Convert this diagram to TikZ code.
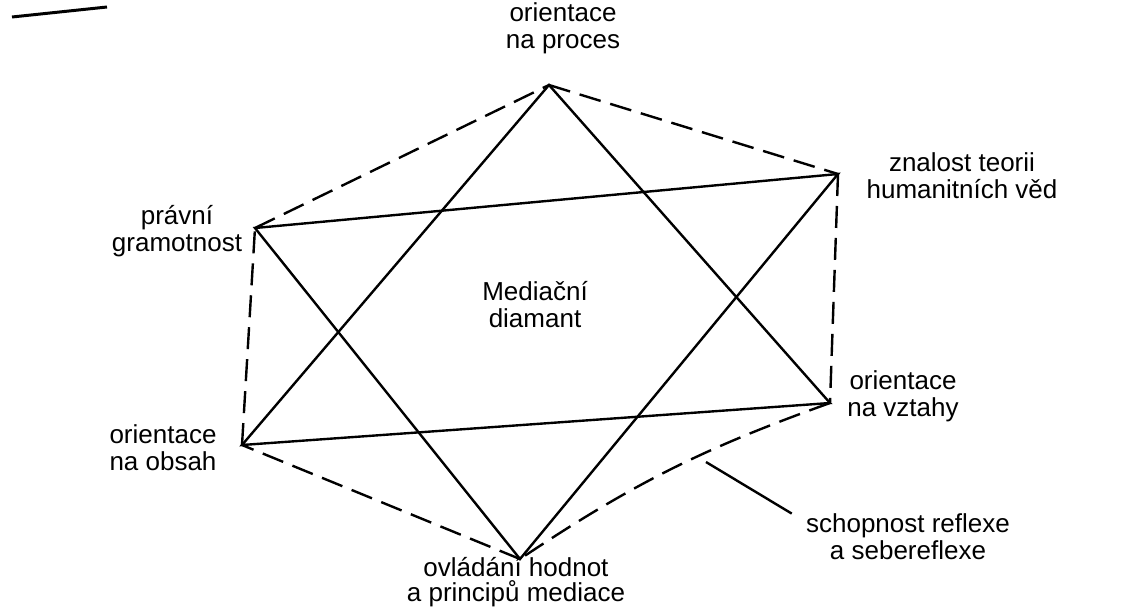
\documentclass[tikz,border=0pt]{standalone}
\usepackage{fontspec}
\setmainfont{Liberation Sans}
\usepackage{tikz}
\usetikzlibrary{positioning}

\begin{document}
\begin{tikzpicture}[x=0.5pt,y=-0.5pt,
  staredge/.style={line width=1.2pt},
  hexedge/.style={line width=1.2pt,dash pattern=on 11pt off 5pt},
  lbl/.style={align=center,inner sep=0pt,font=\fontsize{13}{13.5}\selectfont}]
\useasboundingbox (0,0) rectangle (1140,606);

\coordinate (proc) at (549,85);
\coordinate (teor) at (838,174);
\coordinate (vzt) at (830,403);
\coordinate (hodn) at (520,559);
\coordinate (obs) at (242,445);
\coordinate (prav) at (255,228);
\coordinate (refl-foot) at (706,462);

\draw[line width=1.5pt] (12,17) -- (107,7);

\draw[staredge] (proc) -- (obs) -- (vzt) -- cycle;
\draw[staredge] (prav) -- (teor) -- (hodn) -- cycle;

\draw[hexedge] (proc) -- (teor);
\draw[hexedge] (teor) -- (vzt);
\draw[hexedge] (vzt) to[bend right=7] (hodn);
\draw[hexedge] (hodn) -- (obs);
\draw[hexedge] (obs) -- (prav);
\draw[hexedge] (prav) -- (proc);

\node[lbl] (l-proc) at (563,28) {orientace\\na proces};
\node[lbl] (l-teor) at (962,176) {znalost teorii\\humanitních věd};
\node[lbl] (l-prav) at (177,231) {právní\\gramotnost};
\node[lbl] (l-diam) at (535,305) {Mediační\\diamant};
\node[lbl] (l-vzt) at (903,396) {orientace\\na vztahy};
\node[lbl] (l-obs) at (163,448) {orientace\\na obsah};
\node[lbl,font=\fontsize{13}{12.5}\selectfont] (l-hodn) at (516,582) {ovládání hodnot\\a principů mediace};
\node[lbl] (l-refl) at (908,537) {schopnost reflexe\\a sebereflexe};

\draw[staredge] (refl-foot) -- ([xshift=-7pt]l-refl.north west);
\end{tikzpicture}
\end{document}
